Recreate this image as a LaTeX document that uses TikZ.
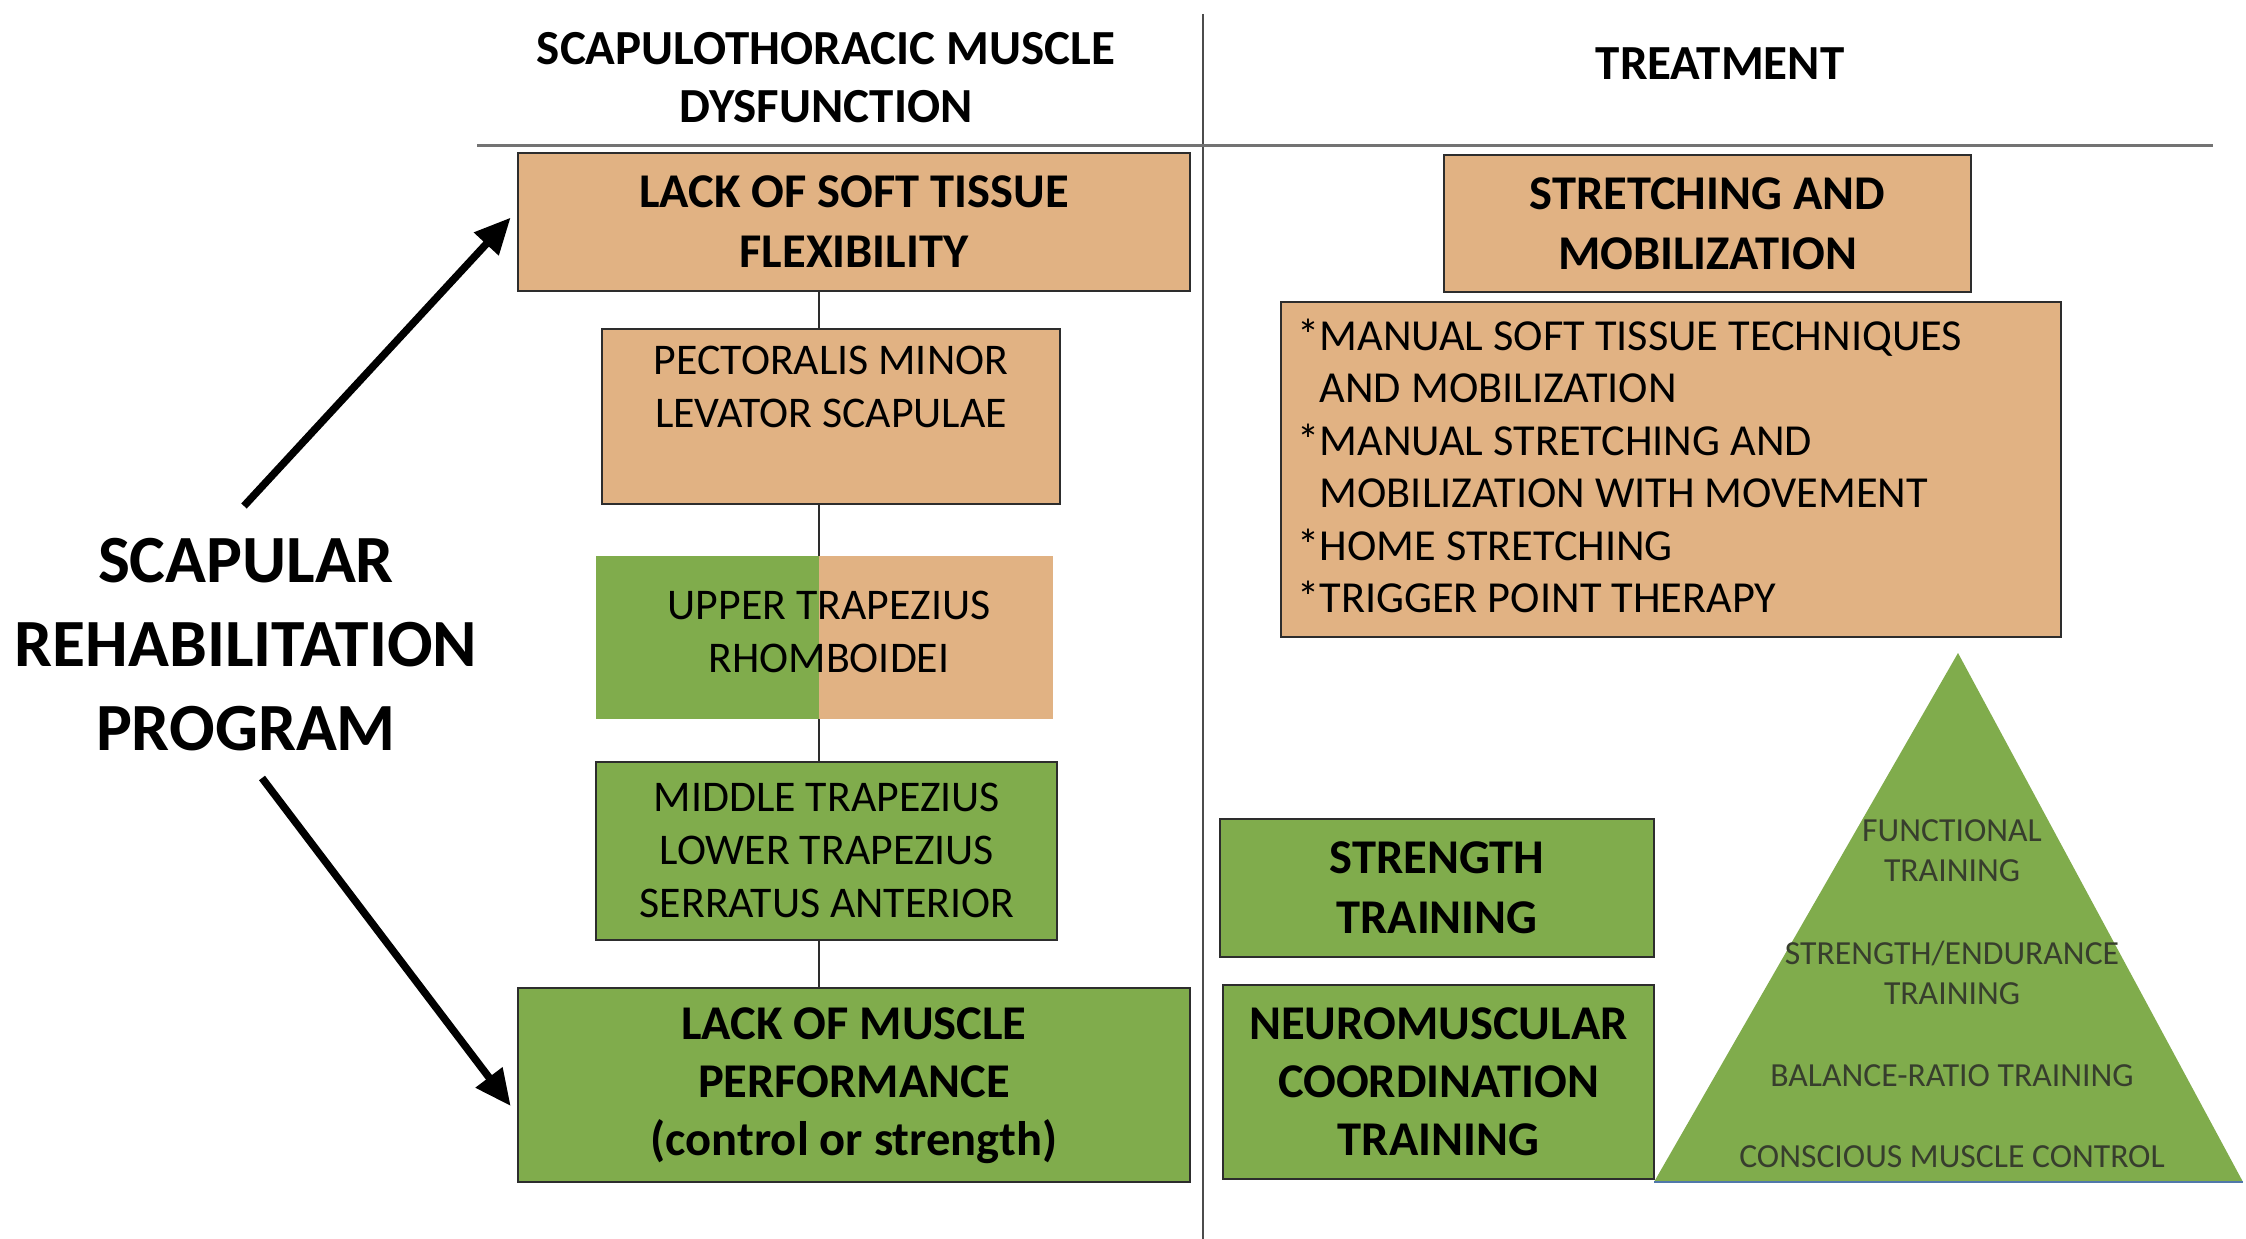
\documentclass[tikz,border=0pt]{standalone}
\usepackage{fontspec}
\setmainfont{Carlito}
\usetikzlibrary{arrows.meta}
\definecolor{tan}{RGB}{225,178,131}
\definecolor{leaf}{RGB}{128,172,76}
\definecolor{edge}{RGB}{45,45,45}
\definecolor{tritext}{RGB}{55,62,45}
\begin{document}
\begin{tikzpicture}[x=1pt,y=-1pt,
  box/.style={draw=edge,line width=2.5pt,inner sep=0pt,align=center},
  obox/.style={box,fill=tan},
  gbox/.style={box,fill=leaf},
  bigtxt/.style={font=\fontsize{48.5}{60}\selectfont\bfseries,align=center},
  headtxt/.style={font=\fontsize{49}{58}\selectfont\bfseries,align=center},
  regtxt/.style={font=\fontsize{43.8}{53}\selectfont,align=center},
  tritxt/.style={font=\fontsize{33.7}{40}\selectfont,text=tritext,align=center},
  conn/.style={draw=edge,line width=1.5pt},
  bigarrow/.style={draw=black,line width=7.5pt,-{Triangle[length=36pt,width=32pt]}}
]
\useasboundingbox (0,0) rectangle (2246,1239);
\fill[white] (0,0) rectangle (2246,1239);

% divider lines
\draw[black!70,line width=2pt] (1203,14) -- (1203,1239);
\draw[black!55,line width=3pt] (477,145) -- (2213,145);

% headers
\node[headtxt] (h1) at (826,78) {SCAPULOTHORACIC MUSCLE\\DYSFUNCTION};
\node[headtxt] (h2) at (1720,64) {TREATMENT};

% left column
\coordinate (cx) at (819,0);
\node[obox,minimum width=672pt,minimum height=138pt] (b1) at (854,222) {};
\node[bigtxt] (b1t) at (854,222) {LACK OF SOFT TISSUE\\FLEXIBILITY};

\fill[leaf] (596,556) rectangle (819,719);
\fill[tan] (819,556) rectangle (1053,719);
\node[inner sep=0pt,minimum width=457pt,minimum height=163pt] (b3) at (824.5,637.5) {};
\node[regtxt] (b3t) at (829,632) {UPPER TRAPEZIUS\\RHOMBOIDEI};

\node[obox,minimum width=458pt,minimum height=175pt] (b2) at (831,416.5) {};
\node[regtxt] (b2t) at (831,387) {PECTORALIS MINOR\\LEVATOR SCAPULAE};

\node[gbox,minimum width=461pt,minimum height=178pt] (b4) at (826.5,851) {};
\node[regtxt] (b4t) at (827,850) {MIDDLE TRAPEZIUS\\LOWER TRAPEZIUS\\SERRATUS ANTERIOR};

\node[gbox,minimum width=672pt,minimum height=194pt] (b5) at (854,1085) {};
\node[bigtxt,font=\fontsize{48.5}{58}\selectfont\bfseries] (b5t) at (854,1086) {LACK OF MUSCLE\\PERFORMANCE\\(control or strength)};

\draw[conn] (b1.south -| cx) -- (b2.north -| cx);
\draw[conn] (b2.south -| cx) -- (b3.north -| cx);
\draw[conn] (b3.south -| cx) -- (b4.north -| cx);
\draw[conn] (b4.south -| cx) -- (b5.north -| cx);

% left label and arrows
\node[font=\fontsize{67.5}{84}\selectfont\bfseries,align=center] (prog) at (246,645) {SCAPULAR\\REHABILITATION\\PROGRAM};
\coordinate (upstart) at (244,506);
\coordinate (downstart) at (262,778);
\draw[bigarrow,shorten >=9pt] (upstart) -- ([yshift=11pt]b1.west);
\draw[bigarrow,shorten >=10pt] (downstart) -- ([yshift=-29pt]b5.west);

% right column
\node[obox,minimum width=527pt,minimum height=137pt] (s1) at (1707.5,223.5) {};
\node[bigtxt] (s1t) at (1707.5,224) {STRETCHING AND\\MOBILIZATION};

\node[obox,minimum width=780pt,minimum height=335pt] (lst) at (1671,469.5) {};
\node[font=\fontsize{44.3}{52.4}\selectfont,align=left,anchor=west] (lstt) at (1294,466) {*MANUAL SOFT TISSUE TECHNIQUES\\\phantom{*}AND MOBILIZATION\\*MANUAL STRETCHING AND\\\phantom{*}MOBILIZATION WITH MOVEMENT\\*HOME STRETCHING\\*TRIGGER POINT THERAPY};

\node[gbox,minimum width=434pt,minimum height=138pt] (st) at (1437,888) {};
\node[bigtxt] (stt) at (1437,888) {STRENGTH\\TRAINING};

\node[gbox,minimum width=431pt,minimum height=194pt] (nm) at (1438.5,1082) {};
\node[bigtxt,font=\fontsize{48.5}{58}\selectfont\bfseries] (nmt) at (1438.5,1082) {NEUROMUSCULAR\\COORDINATION\\TRAINING};

% pyramid
\fill[leaf] (1958,653) -- (1654,1182) -- (2243,1182) -- cycle;
\draw[color={rgb,255:red,80;green,120;blue,170},line width=1.5pt] (1654,1182) -- (2243,1182);
\node[tritxt] (p1) at (1952,851) {FUNCTIONAL\\TRAINING};
\node[tritxt] (p2) at (1952,973) {STRENGTH/ENDURANCE\\TRAINING};
\node[tritxt] (p3) at (1952,1076) {BALANCE-RATIO TRAINING};
\node[tritxt] (p4) at (1952,1157) {CONSCIOUS MUSCLE CONTROL};
\end{tikzpicture}
\end{document}
